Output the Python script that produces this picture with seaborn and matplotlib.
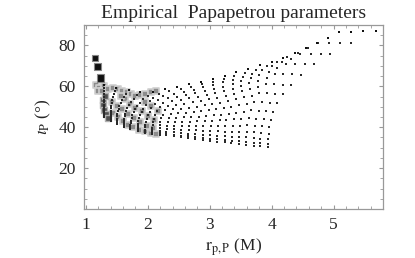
import matplotlib
matplotlib.use('Agg')
import matplotlib.pyplot as plt
import seaborn as sns
from matplotlib.ticker import MultipleLocator, FixedLocator

# grid of fitted points, one inner list per column (r_p,P in M, iota_P in degrees)
rp_cols_left = [
    [1.30,1.30,1.30,1.30,1.30,1.30,1.30,1.30,1.30,1.30,1.30,1.30,1.30,1.30,1.30],
    [1.40,1.40,1.40,1.40,1.40,1.40,1.41,1.41,1.41,1.42,1.43,1.44,1.46,1.47,1.49],
    [1.50,1.50,1.50,1.50,1.51,1.51,1.51,1.52,1.53,1.54,1.56,1.58,1.61,1.65,1.69],
    [1.61,1.61,1.61,1.61,1.62,1.62,1.63,1.64,1.65,1.67,1.70,1.73,1.77,1.82,1.88],
    [1.72,1.72,1.72,1.72,1.73,1.73,1.74,1.75,1.77,1.80,1.83,1.88,1.93,2.00,2.08],
    [1.84,1.84,1.84,1.84,1.84,1.85,1.86,1.88,1.90,1.93,1.97,2.03,2.09,2.18,2.28],
    [1.95,1.95,1.95,1.96,1.96,1.97,1.98,2.00,2.03,2.06,2.11,2.17,2.25,2.35,2.47],
    [2.07,2.07,2.07,2.07,2.08,2.09,2.10,2.12,2.15,2.20,2.25,2.32,2.42,2.53,2.66],
]
iota_cols_left = [
    [45.0,45.4,46.0,46.8,47.7,48.7,49.7,50.9,52.1,53.4,54.7,56.1,57.5,59.0,60.5],
    [43.2,43.6,44.2,45.0,46.0,47.0,48.1,49.3,50.5,51.8,53.2,54.6,56.1,57.7,59.2],
    [41.4,41.8,42.5,43.3,44.2,45.3,46.4,47.7,49.0,50.3,51.8,53.2,54.8,56.4,58.0],
    [40.1,40.5,41.2,42.0,43.0,44.1,45.3,46.6,47.9,49.3,50.8,52.3,53.9,55.6,57.3],
    [38.9,39.3,40.1,41.0,42.1,43.2,44.5,45.9,47.3,48.8,50.4,52.0,53.7,55.5,57.3],
    [38.1,38.6,39.4,40.5,41.6,42.9,44.3,45.8,47.4,49.1,50.8,52.6,54.5,56.4,58.5],
    [37.4,37.9,38.8,40.0,41.2,42.7,44.2,45.9,47.6,49.4,51.4,53.4,55.4,57.6,59.8],
    [36.9,37.5,38.5,39.7,41.0,42.6,44.2,46.0,47.9,49.9,51.9,54.1,56.3,58.6,61.0],
]
rp_cols_mid = [
    [2.19,2.19,2.19,2.19,2.19,2.20,2.22,2.25,2.28,2.33,2.39,2.47,2.58,2.70,2.86],
    [2.30,2.30,2.30,2.31,2.31,2.32,2.34,2.37,2.41,2.46,2.53,2.62,2.74,2.88,3.05],
    [2.42,2.42,2.42,2.42,2.43,2.44,2.46,2.49,2.54,2.59,2.67,2.77,2.90,3.05,3.24],
    [2.54,2.54,2.54,2.54,2.55,2.56,2.58,2.62,2.66,2.73,2.81,2.92,3.06,3.23,3.43],
    [2.65,2.65,2.65,2.66,2.67,2.68,2.70,2.74,2.79,2.86,2.95,3.07,3.22,3.40,3.62],
    [2.77,2.77,2.77,2.78,2.78,2.80,2.82,2.86,2.92,2.99,3.09,3.22,3.38,3.57,3.81],
    [2.89,2.89,2.89,2.89,2.90,2.92,2.94,2.99,3.04,3.12,3.23,3.37,3.54,3.75,4.00],
    [3.00,3.00,3.01,3.01,3.02,3.04,3.07,3.11,3.17,3.26,3.37,3.51,3.69,3.92,4.19],
]
iota_cols_mid = [
    [36.4,37.1,38.1,39.4,40.9,42.6,44.3,46.2,48.2,50.4,52.6,54.9,57.3,59.7,62.3],
    [36.0,36.7,37.8,39.2,40.8,42.6,44.5,46.5,48.7,50.9,53.3,55.8,58.3,61.0,63.7],
    [35.6,36.3,37.5,39.0,40.7,42.6,44.6,46.8,49.1,51.6,54.1,56.7,59.5,62.3,65.2],
    [35.2,35.9,37.2,38.8,40.6,42.7,44.8,47.2,49.6,52.2,55.0,57.8,60.7,63.8,66.9],
    [34.7,35.6,36.9,38.6,40.5,42.7,45.0,47.5,50.1,52.9,55.8,58.8,61.9,65.1,68.4],
    [34.3,35.2,36.6,38.4,40.5,42.8,45.2,47.9,50.7,53.6,56.7,59.9,63.2,66.7,70.2],
    [33.8,34.8,36.3,38.2,40.4,42.9,45.5,48.3,51.3,54.4,57.7,61.1,64.6,68.2,72.0],
    [33.4,34.4,36.1,38.1,40.4,43.0,45.8,48.8,52.0,55.3,58.8,62.4,66.2,70.1,74.1],
]
rp_cols_right = [
    [3.12,3.12,3.12,3.13,3.14,3.16,3.19,3.23,3.30,3.39,3.51,3.66,3.85,4.08,4.37],
    [3.24,3.24,3.24,3.24,3.25,3.27,3.31,3.35,3.42,3.52,3.64,3.80,4.00,4.25,4.55],
    [3.35,3.36,3.36,3.36,3.37,3.39,3.43,3.48,3.55,3.65,3.78,3.95,4.16,4.42,4.73],
    [3.47,3.47,3.47,3.48,3.49,3.51,3.55,3.60,3.68,3.78,3.92,4.09,4.31,4.59,4.91],
    [3.59,3.59,3.59,3.60,3.61,3.63,3.67,3.72,3.80,3.91,4.05,4.23,4.46,4.75,5.09],
    [3.71,3.71,3.71,3.71,3.73,3.75,3.79,3.85,3.93,4.04,4.19,4.38,4.63,4.92,5.28],
    [3.82,3.82,3.82,3.83,3.84,3.87,3.91,3.97,4.06,4.18,4.33,4.54,4.79,5.10,5.48],
    [3.94,3.94,3.94,3.95,3.96,3.99,4.03,4.09,4.19,4.31,4.48,4.69,4.95,5.28,5.68],
]
iota_cols_right = [
    [33.0,34.1,35.8,38.0,40.5,43.3,46.2,49.4,52.8,56.4,60.1,64.0,68.0,72.1,76.4],
    [32.6,33.7,35.6,37.9,40.6,43.5,46.7,50.1,53.7,57.5,61.4,65.6,69.8,74.2,78.8],
    [32.2,33.4,35.4,37.9,40.7,43.8,47.2,50.8,54.6,58.6,62.8,67.2,71.8,76.4,81.3],
    [31.8,33.1,35.2,37.8,40.8,44.1,47.6,51.5,55.5,59.7,64.2,68.8,73.6,78.6,83.7],
    [31.4,32.8,35.0,37.8,41.0,44.5,48.3,52.3,56.6,61.1,65.8,70.8,75.9,81.1,86.6],
    [31.0,32.4,34.7,37.5,40.7,44.2,48.1,52.2,56.5,61.1,65.9,70.8,76.0,81.3,86.8],
    [30.7,32.1,34.4,37.2,40.4,44.0,47.8,52.0,56.3,60.9,65.8,70.8,76.0,81.3,86.9],
    [30.3,31.7,34.0,36.8,40.1,43.7,47.6,51.7,56.2,60.8,65.6,70.7,75.9,81.3,86.9],
]

# empirical points (grey squares), darker squares and the black squares
grey_rp = [1.16,1.22,1.29,1.19,1.26,1.36,1.44,1.52,1.59,1.66,1.73,1.80,1.88,1.96,2.05,2.14,1.42,1.50,1.58,1.44,1.52,1.60,1.68,1.76,1.86,1.96,2.06,2.14,1.64,1.72,1.80,1.68,1.78,1.88,1.98,2.08,1.90,2.00,2.10,1.96,2.06,2.16,1.56]
grey_iota = [60.6,59.4,60.3,57.9,57.6,58.8,59.4,58.6,57.9,57.0,56.3,55.4,55.8,56.4,57.0,57.6,52.5,50.6,48.8,47.0,44.8,42.8,41.2,39.9,38.8,38.0,37.3,36.6,53.8,51.6,49.5,46.5,44.4,42.5,40.8,39.6,48.0,45.6,43.5,52.5,50.5,47.8,55.2]
dark_rp = [1.27,1.28,1.30,1.32,1.35,1.31]
dark_iota = [53.4,51.0,48.6,46.4,44.6,55.5]
black_rp = [1.145,1.19,1.23]
black_iota = [74.0,69.8,64.1]
black_size = [18,30,26]

x_ticks = [1,2,3,4,5]
y_ticks = [20,40,60,80]

cols_x = rp_cols_left + rp_cols_mid + rp_cols_right
cols_y = iota_cols_left + iota_cols_mid + iota_cols_right
body_x = [v for c in cols_x for v in c[:-1]]
body_y = [v for c in cols_y for v in c[:-1]]
edge_x = [c[-1] for c in cols_x]
edge_y = [c[-1] for c in cols_y]

sns.set_style('ticks')
plt.rcParams['font.family'] = ['Liberation Serif', 'DejaVu Serif']
plt.rcParams['mathtext.fontset'] = 'stix'
fig = plt.figure(figsize=(4.15, 2.58), dpi=100)
ax = fig.add_axes([0.2024, 0.19, 0.7206, 0.713])
sns.scatterplot(x=grey_rp, y=grey_iota, ax=ax, marker='s', s=16, color='#8c8c8c', edgecolor='#cfcfcf', linewidth=1.2, zorder=2)
sns.scatterplot(x=dark_rp, y=dark_iota, ax=ax, marker='s', s=18, color='#505050', edgecolor='#b0b0b0', linewidth=1.0, zorder=3)
sns.scatterplot(x=body_x, y=body_y, ax=ax, marker='s', s=3, color='#2a2a2a', linewidth=0, zorder=4)
sns.scatterplot(x=edge_x, y=edge_y, ax=ax, marker='s', s=4.5, color='#111111', linewidth=0, zorder=4)
sns.scatterplot(x=black_rp, y=black_iota, ax=ax, marker='s', size=black_size, sizes=(18, 30),
                color='#111111', edgecolor='#888888', linewidth=0.8, zorder=5, legend=False)
ax.set_xlim(0.97, 5.8)
ax.set_ylim(0, 90)
ax.xaxis.set_major_locator(FixedLocator(x_ticks))
ax.yaxis.set_major_locator(FixedLocator(y_ticks))
ax.xaxis.set_minor_locator(MultipleLocator(0.2))
ax.yaxis.set_minor_locator(MultipleLocator(5))
ax.tick_params(which='both', direction='in', top=True, right=True, color='#999999', labelsize=12.5, pad=6)
ax.tick_params(which='major', length=3, width=0.8)
ax.tick_params(which='minor', length=2, width=0.6)
for s in ax.spines.values():
    s.set_color('#999999')
    s.set_linewidth(0.9)
ax.set_title('Empirical  Papapetrou parameters', fontsize=14, pad=5)
ax.set_xlabel(r'$\mathrm{r}_{\mathrm{p,P}}$ (M)', fontsize=12.5, labelpad=2)
ax.set_ylabel(r'$\iota_{\mathrm{P}}$ (°)', fontsize=12.5, labelpad=4)
fig.savefig('out.png')
